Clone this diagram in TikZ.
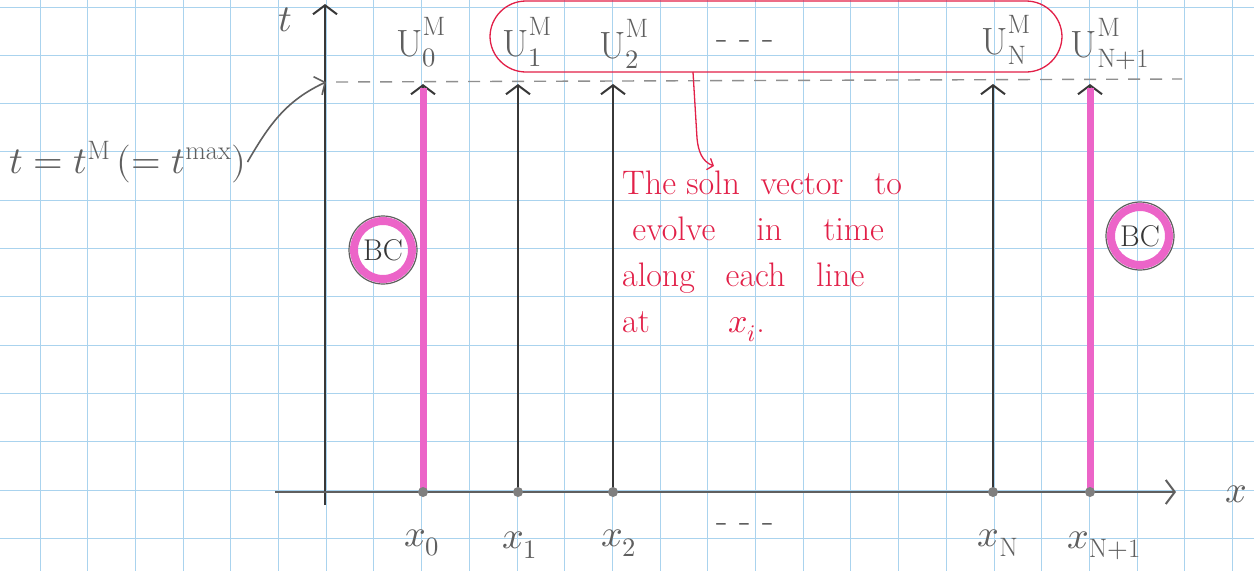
\documentclass[tikz,border=0pt]{standalone}
\usepackage{fontspec}
\usepackage{unicode-math}
\usetikzlibrary{arrows.meta}
\definecolor{gridblue}{RGB}{170,211,238}
\definecolor{pencil}{RGB}{95,95,95}
\definecolor{pencildark}{RGB}{55,55,55}
\definecolor{bcpink}{RGB}{236,100,200}
\definecolor{inkred}{RGB}{226,32,72}
\newcommand\Msup{\mathrm{M}\rule[-7pt]{0pt}{7pt}}
\tikzset{
  gridline/.style={gridblue, line width=1pt},
  axis/.style={pencildark, line width=2pt},
  chev/.style={-{Straight Barb[length=9pt,width=24pt,line width=2pt]}},
  xline/.style={pencildark, line width=2pt},
  bcline/.style={bcpink, line width=7pt},
  pendot/.style={circle, fill=pencil!80, inner sep=0pt, minimum size=10pt},
  penlabel/.style={text=pencil, font=\fontsize{38}{40}\selectfont, inner sep=1pt},
  redtext/.style={text=inkred, font=\fontsize{34}{46}\selectfont, align=left, inner sep=0pt},
  bcring/.style={circle, draw=bcpink, line width=8pt, minimum size=58pt, text=pencildark, font=\fontsize{30}{32}\selectfont, inner sep=0pt}
}
\begin{document}
\begin{tikzpicture}[x=1pt,y=-1pt]
\useasboundingbox (0,0) rectangle (1254,571);
\fill[white] (0,0) rectangle (1254,571);
% grid
\foreach \i in {0,...,25} \draw[gridline] ({40+47.7*\i},0) -- ++(0,571);
\foreach \j in {0,...,11} \draw[gridline] (0,{7+48.3*\j}) -- ++(1254,0);

% coordinates
\coordinate (tb) at (325,505);
\coordinate (tt) at (325,4);
\coordinate (xa) at (275,492);
\coordinate (xe) at (1176,492);
\coordinate (dashA) at (336,82);
\coordinate (dashB) at (1182,79);
\coordinate (tmark) at (326,82);
\foreach \n/\x in {0/423,1/518,2/613,N/993,P/1090}{
  \coordinate (b\n) at (\x,492);
  \coordinate (t\n) at (\x,84);
  \coordinate (m\n) at (\x,88);
}

% axes
\draw[axis, chev] (tb) -- (tt);
\draw[pencil, line width=1.6pt, chev] (xa) -- (xe);
\node[penlabel] (tlab) at (285,20) {$t$};
\node[penlabel] (xlab) at (1236,494) {$x$};

% dashed t = t^M line
\draw[pencil!70, line width=1.4pt, dash pattern=on 12pt off 10pt] (dashA) -- (dashB);

% vertical lines
\foreach \n in {0,1,2,N,P} \draw[xline, chev] (b\n) -- (t\n);
\draw[bcline] (b0) -- (m0);
\draw[bcline] (bP) -- (mP);
\foreach \n in {0,1,2,N,P} \node[pendot] at (b\n) {};

% top labels
\node[penlabel] (U0) at (421,42) {$\mathrm{U}_0^{\Msup}$};
\node[penlabel] (U1) at (527,42) {$\mathrm{U}_1^{\Msup}$};
\node[penlabel] (U2) at (624,44) {$\mathrm{U}_2^{\Msup}$};
\node[penlabel] (Ud) at (745,45) {- - -};
\node[penlabel] (UN) at (1006,40) {$\mathrm{U}_{\mathrm{N}}^{\Msup}$};
\node[penlabel] (UP) at (1110,44) {$\mathrm{U}_{\mathrm{N+1}}^{\Msup}$};

% bottom labels
\node[penlabel] (x0) at (422,543) {$x_0$};
\node[penlabel] (x1) at (520,545) {$x_1$};
\node[penlabel] (x2) at (619,543) {$x_2$};
\node[penlabel] (xd) at (745,528) {- - -};
\node[penlabel] (xN) at (998,543) {$x_{\mathrm{N}}$};
\node[penlabel] (xP) at (1104,546) {$x_{\mathrm{N+1}}$};

% t = t^M label and arrow
\node[penlabel, anchor=west, font=\fontsize{38}{40}\selectfont] (tM) at (8,162) {$t=t^{\mathrm{M}}\,(=t^{\mathrm{max}})$};
\draw[pencil, line width=1.6pt, -{Straight Barb[length=8pt,width=20pt,line width=1.6pt]}] (tM.east) to[out=60, in=205] (tmark);

% red enclosure and note
\draw[inkred, line width=1.3pt, rounded corners=36pt] (490,1) rectangle (1062,72);
\coordinate (encb) at (693,72);
\coordinate (notearrow) at (714,166);
\draw[inkred, line width=1.3pt, -{Straight Barb[length=5pt,width=12pt,line width=1.3pt]}] (encb) -- (697,138) to[out=-85,in=160] (notearrow);
\node[redtext, anchor=north west] (note) at (622,171) {The soln \ vector \ \ to\\ \ evolve \ \ \ in \ \ \ time\\ along \ \ each \ \ line\\ at \quad\quad $x_i$.};

% BC circles
\node[bcring] (bcL) at (383,250) {BC};
\node[bcring] (bcR) at (1140,236) {BC};
\draw[pencil, line width=1.2pt] (bcL) circle[radius=34pt];
\draw[pencil, line width=1.2pt] (bcR) circle[radius=34pt];
\end{tikzpicture}
\end{document}
